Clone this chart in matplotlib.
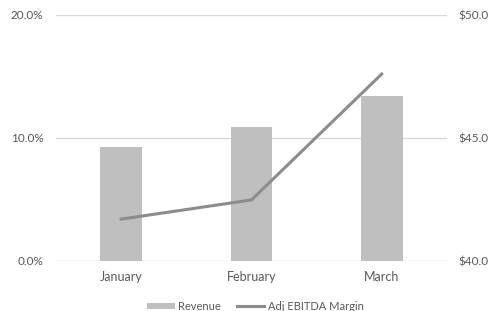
import matplotlib
matplotlib.use("Agg")
import matplotlib.pyplot as plt
import matplotlib.ticker as ticker

# data
months = ["January", "February", "March"]
revenue = [44.65, 45.46, 46.71]        # $ (right axis)
ebitda_margin = [3.4, 4.96, 15.2]      # % (left axis)

plt.rcParams['font.family'] = ['Lato', 'DejaVu Sans']
txt = '#595959'
grid = '#D9D9D9'

fig = plt.figure(figsize=(4.96, 3.11), dpi=100)
ax1 = fig.add_axes([0.113, 0.161, 0.788, 0.791])
ax2 = ax1.twinx()

x = range(len(months))
ax2.bar(x, revenue, width=0.32, color='#BFBFBF', zorder=2, label='Revenue')
ax2.set_ylim(40, 50)
ax2.set_yticks([40, 45, 50])
ax2.yaxis.set_major_formatter(ticker.FuncFormatter(lambda v, p: '${:.1f}'.format(v)))

ax1.plot(x, ebitda_margin, color='#8C8C8C', lw=2.2, zorder=3, label='Adj EBITDA Margin')
ax1.set_ylim(0, 20)
ax1.set_yticks([0, 10, 20])
ax1.yaxis.set_major_formatter(ticker.FuncFormatter(lambda v, p: '{:.1f}%'.format(v)))
ax1.set_xlim(-0.5, 2.5)
ax1.set_xticks(list(x))
ax1.set_xticklabels(months)

# line above bars
ax1.set_zorder(ax2.get_zorder() + 1)
ax1.patch.set_visible(False)

for a in (ax1, ax2):
    for s in a.spines.values():
        s.set_visible(False)
    a.tick_params(length=0, labelsize=8.5, colors=txt)
ax1.tick_params(axis='y', pad=9)
ax2.tick_params(axis='y', pad=8.5)
ax1.tick_params(axis='x', pad=7.5, labelsize=9)
for v in [0, 10, 20]:
    ax2.axhline(40 + v / 2, color=grid, lw=1, zorder=0)

h1, l1 = ax2.get_legend_handles_labels()
h2, l2 = ax1.get_legend_handles_labels()
leg = fig.legend(h1 + h2, l1 + l2, loc='center', bbox_to_anchor=(0.515, 0.015),
                 ncol=2, frameon=False, fontsize=8, handlelength=2.5,
                 handleheight=0.45, columnspacing=1.4, handletextpad=0.3)
for t in leg.get_texts():
    t.set_color(txt)

fig.savefig('out.png', dpi=100)
